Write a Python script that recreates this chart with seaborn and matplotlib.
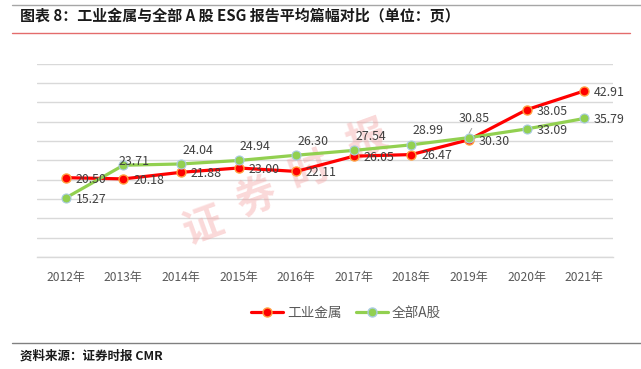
import matplotlib
matplotlib.use("Agg")
import matplotlib.pyplot as plt
import seaborn as sns
import pandas as pd
from matplotlib.lines import Line2D

years = ["2012年", "2013年", "2014年", "2015年", "2016年", "2017年", "2018年", "2019年", "2020年", "2021年"]
metal = [20.50, 20.18, 21.88, 23.00, 22.11, 26.05, 26.47, 30.30, 38.05, 42.91]
alla = [15.27, 23.71, 24.04, 24.94, 26.30, 27.54, 28.99, 30.85, 33.09, 35.79]
series_names = ["工业金属", "全部A股"]
green_label_pos = ["right", "near", "above", "above", "above", "above", "above", "leader", "right", "right"]
watermark_chars = ["证", "券", "时", "报"]

sns.set_theme(style="white")
plt.rcParams["font.family"] = ["Noto Sans CJK SC", "DejaVu Sans"]

RED = "#FF0000"
GREEN = "#92D050"

df = pd.DataFrame({
    "idx": list(range(len(years))) * 2,
    "value": metal + alla,
    "series": [series_names[0]] * len(years) + [series_names[1]] * len(years),
})

fig = plt.figure(figsize=(6.41, 3.69), dpi=100)
ax = fig.add_axes([37 / 641, 1 - 257 / 369, 576 / 641, (257 - 63.5) / 369])

sns.lineplot(data=df[df.series == series_names[0]], x="idx", y="value", color=RED,
             linewidth=2.3, marker="o", markersize=6.5, markerfacecolor=RED,
             markeredgecolor="#FFA040", markeredgewidth=1.0, ax=ax, zorder=3, legend=False)
sns.lineplot(data=df[df.series == series_names[1]], x="idx", y="value", color=GREEN,
             linewidth=2.3, marker="o", markersize=6.5, markerfacecolor=GREEN,
             markeredgecolor="#A9CBE0", markeredgewidth=0.8, ax=ax, zorder=4, legend=False)

ax.set_xlim(-0.5, len(years) - 0.5)
ax.set_ylim(0, 50)
ax.set_yticks(range(0, 51, 5))
ax.set_yticklabels([])
ax.yaxis.grid(True, color="#D9D9D9", linewidth=1.0)
ax.set_axisbelow(True)
for s in ["top", "right", "left"]:
    ax.spines[s].set_visible(False)
ax.spines["bottom"].set_color("#D9D9D9")
ax.spines["bottom"].set_linewidth(1.0)
ax.set_xticks(range(len(years)))
ax.set_xticklabels(years, color="#595959", fontsize=8.7)
ax.tick_params(axis="x", length=0, pad=10)
ax.tick_params(axis="y", length=0)
ax.set_xlabel("")
ax.set_ylabel("")

lab_kw = dict(textcoords="offset points", fontsize=8.9, color="#404040", va="center", zorder=5)
for i, v in enumerate(metal):
    ax.annotate(f"{v:.2f}", (i, v), xytext=(7, -1), ha="left", **lab_kw)
for i, v in enumerate(alla):
    p = green_label_pos[i]
    if p == "right":
        ax.annotate(f"{v:.2f}", (i, v), xytext=(7, -1), ha="left", **lab_kw)
    elif p == "above":
        ax.annotate(f"{v:.2f}", (i, v), xytext=(1, 10), ha="left", **lab_kw)
    elif p == "near":
        ax.annotate(f"{v:.2f}", (i, v), xytext=(8, 3), ha="center", **lab_kw)
    else:
        ax.annotate(f"{v:.2f}", (i, v), xytext=(4, 14), ha="center", **lab_kw)
        ax.annotate("", (i - 0.02, v + 0.5), xytext=(i + 0.07, v + 3.0),
                    arrowprops=dict(arrowstyle="-", color="#A6A6A6", lw=0.8))

# watermark (behind the lines)
wm_pos = [(203, 227), (257, 197), (309, 171), (367, 140)]
for ch, (px, py) in zip(watermark_chars, wm_pos):
    ax.text(px / 641, 1 - py / 369, ch, transform=fig.transFigure, fontsize=29,
            color="#F4A0A0", alpha=0.4, rotation=20, ha="center", va="center",
            fontweight="bold", zorder=1)

handles = [
    Line2D([], [], color=RED, lw=2.3, marker="o", markersize=6.5, markerfacecolor=RED,
           markeredgecolor="#FFA040"),
    Line2D([], [], color=GREEN, lw=2.3, marker="o", markersize=6.5, markerfacecolor=GREEN,
           markeredgecolor="#A9CBE0"),
]
leg = fig.legend(handles, series_names, loc="center", bbox_to_anchor=(0.54, 1 - 313 / 369),
                 ncol=2, frameon=False, fontsize=9.8, handlelength=2.3, columnspacing=1.1,
                 handletextpad=0.3)
for t in leg.get_texts():
    t.set_color("#595959")

# header / footer
fig.add_artist(Line2D([12 / 641, 1.0], [1 - 5 / 369] * 2, color="#A6A6A6", lw=1.0))
fig.text(20 / 641, 1 - 15 / 369, "图表 8：工业金属与全部 A 股 ESG 报告平均篇幅对比（单位：页）",
         fontsize=10.8, fontweight="bold", color="#1a1a1a", ha="left", va="center")
fig.add_artist(Line2D([12 / 641, 630 / 641], [1 - 33 / 369] * 2, color="#E46C6C", lw=1.0))
fig.add_artist(Line2D([12 / 641, 1.0], [1 - 343 / 369] * 2, color="#808080", lw=1.0))
fig.text(20 / 641, 1 - 356 / 369, "资料来源：证券时报 CMR", fontsize=9, fontweight="bold",
         color="#1a1a1a", ha="left", va="center")

fig.savefig("out.png", dpi=100)
